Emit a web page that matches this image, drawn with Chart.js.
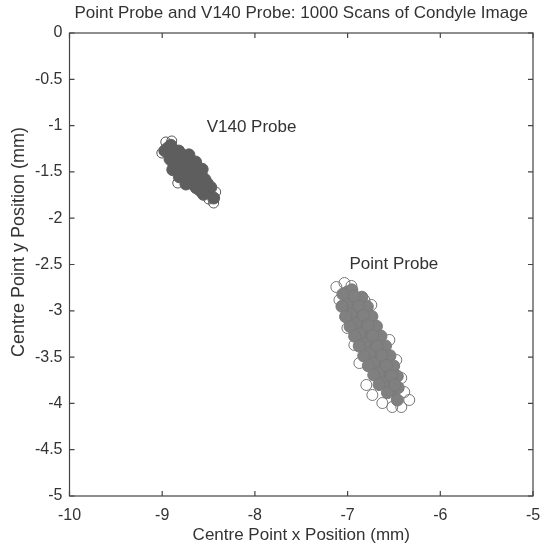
<!DOCTYPE html>
<html>
<head>
<meta charset="utf-8">
<script src="https://cdn.jsdelivr.net/npm/chart.js@4.4.1/dist/chart.umd.min.js"></script>
<style>
  body { margin: 0; background: #fff; }
  #wrap { width: 540px; height: 550px; }
</style>
</head>
<body>
<div id="wrap"><canvas id="chart" width="540" height="550"></canvas></div>
<script>
// axis ticks
const xTicks = [-10, -9, -8, -7, -6, -5];
const yTicks = [0, -0.5, -1, -1.5, -2, -2.5, -3, -3.5, -4, -4.5, -5];

// V140 probe scans: dense core and the loose circles round its edge
const v140Core = [
    [-8.940, -1.242], [-8.907, -1.213], [-8.972, -1.271], [-8.869, -1.319], [-8.821, -1.275],
    [-8.916, -1.362], [-8.799, -1.396], [-8.751, -1.353], [-8.846, -1.440], [-8.712, -1.316],
    [-8.886, -1.476], [-8.728, -1.473], [-8.680, -1.430], [-8.775, -1.516], [-8.640, -1.393],
    [-8.815, -1.553], [-8.657, -1.551], [-8.609, -1.508], [-8.704, -1.594], [-8.569, -1.471],
    [-8.744, -1.631], [-8.586, -1.627], [-8.538, -1.584], [-8.633, -1.671], [-8.516, -1.705],
    [-8.476, -1.668], [-8.555, -1.742], [-8.445, -1.782], [-8.832, -1.361], [-8.763, -1.436],
    [-8.692, -1.512], [-8.621, -1.587], [-8.552, -1.663], [-8.902, -1.285],
    [-8.785, -1.317], [-8.879, -1.404], [-8.716, -1.393], [-8.811, -1.479], [-8.645, -1.469],
    [-8.740, -1.555], [-8.574, -1.544], [-8.668, -1.631], [-8.512, -1.627], [-8.592, -1.699]
];
const v140Edge = [
    [-8.961, -1.177], [-8.897, -1.166], [-9.004, -1.296], [-8.832, -1.620],
    [-8.423, -1.717], [-8.445, -1.836], [-8.498, -1.793]
];

// Point probe scans
const pointCore = [
    [-7.002, -2.797], [-6.954, -2.774], [-7.051, -2.820],
    [-6.954, -2.903], [-6.896, -2.876], [-7.012, -2.930], [-6.846, -2.853], [-7.061, -2.952],
    [-6.904, -3.009], [-6.846, -2.982], [-6.962, -3.036], [-6.787, -2.955], [-7.022, -3.063],
    [-6.856, -3.116], [-6.798, -3.089], [-6.914, -3.143], [-6.738, -3.062], [-6.973, -3.170],
    [-6.806, -3.221], [-6.748, -3.194], [-6.864, -3.248], [-6.689, -3.167], [-6.924, -3.275],
    [-6.758, -3.327], [-6.700, -3.300], [-6.816, -3.354], [-6.640, -3.273], [-6.875, -3.381],
    [-6.708, -3.433], [-6.650, -3.406], [-6.766, -3.460], [-6.591, -3.379], [-6.826, -3.487],
    [-6.660, -3.539], [-6.602, -3.512], [-6.718, -3.566], [-6.543, -3.485], [-6.777, -3.593],
    [-6.610, -3.645], [-6.552, -3.618], [-6.668, -3.672], [-6.503, -3.596], [-6.718, -3.693],
    [-6.562, -3.752], [-6.504, -3.725], [-6.620, -3.779], [-6.464, -3.706], [-6.660, -3.797],
    [-6.512, -3.857], [-6.454, -3.830], [-6.570, -3.884],
    [-6.464, -3.963],
    [-6.930, -2.840], [-6.880, -2.950], [-6.830, -3.050], [-6.780, -3.160], [-6.730, -3.270],
    [-6.680, -3.380], [-6.630, -3.480], [-6.580, -3.590], [-6.530, -3.700], [-6.490, -3.800]
];
const pointEdge = [
    [-7.121, -2.743], [-7.034, -2.700], [-6.959, -2.732], [-6.819, -2.883], [-7.002, -3.186],
    [-6.873, -3.564], [-6.798, -3.801], [-6.475, -3.531], [-6.421, -3.726], [-6.389, -3.877],
    [-6.335, -3.963], [-6.518, -4.039], [-6.421, -4.039],
    [-7.088, -2.883], [-6.927, -3.369], [-6.733, -3.909], [-6.744, -2.937], [-6.550, -3.315],
    [-6.625, -3.996]
];

// text labels placed next to the clusters
const labelText = ['V140 Probe', 'Point Probe'];
const labelX = [-8.52, -6.98];
const labelY = [-1.015, -2.495];

const FONT = '"Liberation Sans", Arial, Helvetica, sans-serif';
const INK = '#333';

function toPoints(arr) {
    return arr.map(p => ({ x: p[0], y: p[1] }));
}

// box, inward ticks on all four sides, cluster labels, y axis title
const matlabFrame = {
    id: 'matlabFrame',
    afterDraw(chart) {
        const { ctx, chartArea: a, scales: { x, y } } = chart;
        ctx.save();
        ctx.strokeStyle = '#444';
        ctx.lineWidth = 1.2;
        ctx.strokeRect(a.left, a.top, a.width, a.height);
        ctx.beginPath();
        x.ticks.forEach(t => {
            const px = x.getPixelForValue(t.value);
            ctx.moveTo(px, a.bottom); ctx.lineTo(px, a.bottom - 5);
            ctx.moveTo(px, a.top); ctx.lineTo(px, a.top + 5);
        });
        y.ticks.forEach(t => {
            const py = y.getPixelForValue(t.value);
            ctx.moveTo(a.left, py); ctx.lineTo(a.left + 5, py);
            ctx.moveTo(a.right, py); ctx.lineTo(a.right - 5, py);
        });
        ctx.stroke();

        ctx.fillStyle = INK;
        ctx.font = '17px ' + FONT;
        ctx.textAlign = 'left';
        ctx.textBaseline = 'middle';
        labelText.forEach((t, i) => {
            ctx.fillText(t, x.getPixelForValue(labelX[i]), y.getPixelForValue(labelY[i]));
        });

        ctx.translate(19, 242);
        ctx.rotate(-Math.PI / 2);
        ctx.textAlign = 'center';
        ctx.font = '18px ' + FONT;
        ctx.fillText('Centre Point y Position (mm)', 0, 0);
        ctx.restore();
    }
};

new Chart(document.getElementById('chart'), {
    type: 'scatter',
    data: {
        datasets: [
            {
                label: 'V140 Probe',
                data: toPoints(v140Core),
                pointRadius: 6,
                pointBackgroundColor: '#5e5e5e',
                pointBorderColor: '#5e5e5e',
                pointBorderWidth: 1
            },
            {
                label: 'Point Probe',
                data: toPoints(pointCore),
                pointRadius: 6,
                pointBackgroundColor: '#808080',
                pointBorderColor: '#7a7a7a',
                pointBorderWidth: 1
            },
            {
                label: 'V140 Probe edge',
                data: toPoints(v140Edge),
                pointRadius: 5,
                pointBackgroundColor: 'rgba(255,255,255,0)',
                pointBorderColor: '#555',
                pointBorderWidth: 1
            },
            {
                label: 'Point Probe edge',
                data: toPoints(pointEdge),
                pointRadius: 5.5,
                pointBackgroundColor: 'rgba(255,255,255,0)',
                pointBorderColor: '#777',
                pointBorderWidth: 1
            }
        ]
    },
    options: {
        responsive: false,
        animation: false,
        devicePixelRatio: 1,
        layout: { padding: { top: 0, left: 0, right: 6, bottom: 0 } },
        plugins: {
            legend: { display: false },
            tooltip: { enabled: false },
            title: {
                display: true,
                fullSize: false,
                text: 'Point Probe and V140 Probe: 1000 Scans of Condyle Image',
                color: INK,
                font: { family: FONT, size: 17, weight: 'normal' },
                padding: { top: 3, bottom: 9.6 }
            }
        },
        scales: {
            x: {
                type: 'linear',
                min: -10,
                max: -5,
                afterBuildTicks: scale => { scale.ticks = xTicks.map(v => ({ value: v })); },
                afterFit: scale => {
                    scale.height = 54;
                    scale.paddingLeft = 0;
                    scale.paddingRight = 0;
                },
                grid: { display: false, drawTicks: false, tickLength: 0 },
                border: { display: false },
                ticks: {
                    color: INK, padding: 10, maxRotation: 0,
                    font: { family: FONT, size: 16 },
                    callback: v => String(v)
                },
                title: {
                    display: true,
                    text: 'Centre Point x Position (mm)',
                    color: INK,
                    font: { family: FONT, size: 17 },
                    padding: { top: 0, bottom: 4.8 }
                }
            },
            y: {
                type: 'linear',
                min: -5,
                max: 0,
                afterBuildTicks: scale => { scale.ticks = yTicks.map(v => ({ value: v })); },
                afterFit: scale => {
                    scale.width = 69.5;
                    scale.paddingTop = 0;
                    scale.paddingBottom = 0;
                },
                grid: { display: false, drawTicks: false, tickLength: 0 },
                border: { display: false },
                ticks: {
                    color: INK, padding: 7,
                    font: { family: FONT, size: 16 },
                    callback: v => String(v)
                }
            }
        }
    },
    plugins: [matlabFrame]
});
</script>
</body>
</html>
